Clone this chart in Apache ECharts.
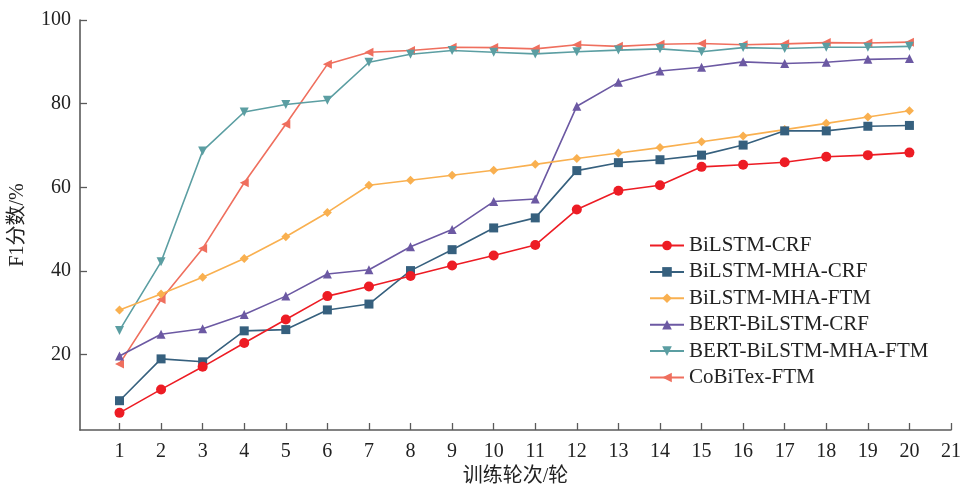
<!DOCTYPE html>
<html>
<head>
<meta charset="utf-8">
<script src="https://cdn.jsdelivr.net/npm/echarts@6/dist/echarts.min.js"></script>
<style>
html,body{margin:0;padding:0;background:#fff;}
#main{width:964px;height:492px;}
</style>
</head>
<body>
<div id="main"></div>
<script>
const epochs = [1,2,3,4,5,6,7,8,9,10,11,12,13,14,15,16,17,18,19,20];
const xTickLabels = [1,2,3,4,5,6,7,8,9,10,11,12,13,14,15,16,17,18,19,20,21];
const yTickLabels = [20,40,60,80,100];
const seriesNames = ['BiLSTM-CRF','BiLSTM-MHA-CRF','BiLSTM-MHA-FTM','BERT-BiLSTM-CRF','BERT-BiLSTM-MHA-FTM','CoBiTex-FTM'];
const bilstmCrf = [6.1,11.7,17.1,22.8,28.4,34.0,36.3,38.8,41.3,43.7,46.2,54.7,59.2,60.5,64.9,65.4,66.0,67.3,67.7,68.3];
const bilstmMhaCrf = [9.0,19.0,18.3,25.7,26.0,30.7,32.1,40.1,45.1,50.3,52.7,64.0,65.9,66.6,67.7,70.1,73.5,73.5,74.6,74.8];
const bilstmMhaFtm = [30.7,34.5,38.5,43.0,48.2,54.0,60.5,61.7,62.9,64.1,65.5,66.9,68.2,69.5,70.9,72.3,73.8,75.3,76.8,78.3];
const bertBilstmCrf = [19.7,24.9,26.2,29.6,34.0,39.3,40.3,45.8,49.9,56.6,57.2,79.4,85.1,87.8,88.7,90.0,89.6,89.9,90.6,90.8];
const bertBilstmMhaFtm = [25.8,42.2,68.7,78.0,79.8,80.8,89.9,91.8,92.7,92.3,91.9,92.4,92.8,93.1,92.4,93.4,93.2,93.5,93.5,93.7];
const cobitexFtm = [17.8,33.2,45.4,61.1,75.1,89.4,92.3,92.7,93.5,93.4,93.1,94.1,93.7,94.2,94.4,94.1,94.3,94.6,94.5,94.7];

const colors = ['#ed1c24','#36607e','#f9b050','#6c59a3','#5b9ea2','#ef6f5e'];
const symbols = ['circle','rect','diamond','triangle','triangle','triangle'];
const symbolSizes = [10,9,9,9,9,9];
const symbolRotates = [0,0,0,0,180,90];
const allData = [bilstmCrf,bilstmMhaCrf,bilstmMhaFtm,bertBilstmCrf,bertBilstmMhaFtm,cobitexFtm];

const font = '"Liberation Serif","Times New Roman","Noto Sans CJK SC",serif';

const chart = echarts.init(document.getElementById('main'), null, {renderer:'canvas'});
chart.setOption({
  animation:false,
  backgroundColor:'#fff',
  textStyle:{fontFamily:font},
  grid:{left:80,right:9.5,top:20,bottom:56.5,containLabel:false},
  legend:{
    orient:'vertical',
    left:644,
    top:230,
    itemWidth:34,
    itemHeight:12,
    itemGap:5.4,
    textStyle:{fontFamily:font,fontSize:21,color:'#222'},
    data:seriesNames
  },
  xAxis:{
    type:'value',
    min:0.05,max:21,
    name:'训练轮次/轮',
    nameLocation:'middle',
    nameGap:37,
    nameTextStyle:{fontFamily:font,fontSize:20,color:'#222'},
    axisLine:{show:true,lineStyle:{color:'#5a5a5a',width:1.6}},
    axisTick:{show:true,inside:true,length:7,lineStyle:{color:'#5a5a5a',width:1.3},customValues:xTickLabels},
    axisLabel:{fontFamily:font,fontSize:20,color:'#222',margin:12,customValues:xTickLabels},
    splitLine:{show:false}
  },
  yAxis:{
    type:'value',
    min:2,max:100,
    name:'F1分数/%',
    nameLocation:'middle',
    nameGap:52,
    nameTextStyle:{fontFamily:font,fontSize:20,color:'#222'},
    axisLine:{show:true,lineStyle:{color:'#5a5a5a',width:1.6}},
    axisTick:{show:true,inside:true,length:7,lineStyle:{color:'#5a5a5a',width:1.3},customValues:yTickLabels},
    axisLabel:{fontFamily:font,fontSize:20,color:'#222',margin:9,customValues:yTickLabels},
    splitLine:{show:false}
  },
  series: seriesNames.map((name,i)=>({
    name:name,
    type:'line',
    data:epochs.map((x,j)=>[x,allData[i][j]]),
    symbol:symbols[i],
    symbolSize:symbolSizes[i],
    symbolRotate:symbolRotates[i],
    showAllSymbol:true,
    itemStyle:{color:colors[i]},
    lineStyle:{color:colors[i],width:1.6},
    z:10-i
  }))
});
</script>
</body>
</html>
